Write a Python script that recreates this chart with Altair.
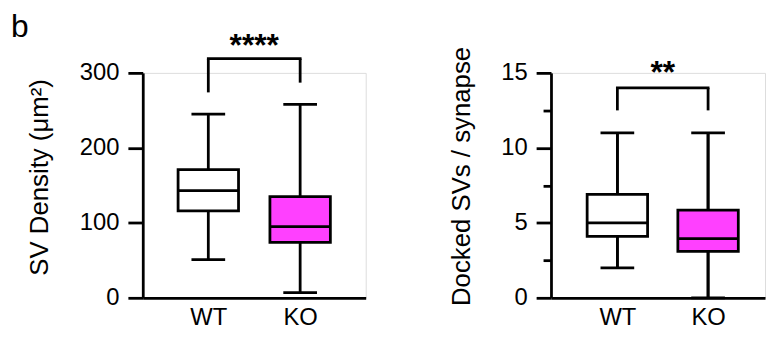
import altair as alt
import pandas as pd

# ---------------- data ----------------
groups = ["WT", "KO"]
positions = [1, 2]
fills = ["#ffffff", "#ff40ff"]

sv_min = [51, 7]
sv_q1 = [116, 74]
sv_med = [143, 95]
sv_q3 = [171, 135]
sv_max = [245, 258]
sv_legs = [274, 287]
sv_top = 319
sv_stars = "****"
sv_stars_y = 322

dk_min = [2, 0]
dk_q1 = [4.1, 3.1]
dk_med = [5.0, 3.95]
dk_q3 = [6.9, 5.85]
dk_max = [11, 11]
dk_legs = [12.5, 12.5]
dk_top = 14
dk_stars = "**"
dk_stars_y = 14.3

sv_ticks = [0, 100, 200, 300]
dk_ticks = [0, 5, 10, 15]
dk_minor = [2.5, 7.5, 12.5]

FONT = "Liberation Sans"
SW = 2.8
FS = 24
TFS = 26

label_expr = " : ".join(
    [f"datum.value == {p} ? '{g}'" for p, g in zip(positions, groups)] + ["''"]
)


def panel(mins, q1, med, q3, maxs, legs, top, stars, stars_y, ydomain, yticks,
          xdomain, width, ytitle, title_x, title_y, minor=None, title=None):
    df = pd.DataFrame({
        "pos": positions, "g": groups, "fill": fills, "min": mins, "q1": q1,
        "med": med, "q3": q3, "max": maxs, "leg": legs, "top": [top] * len(groups),
    })
    xs = alt.Scale(domain=xdomain, nice=False, zero=False)
    ys = alt.Scale(domain=ydomain, nice=False, zero=False)
    xaxis = alt.Axis(values=positions, labelExpr=label_expr, ticks=False, grid=False,
                     domainWidth=SW, domainColor="black", labelFontSize=FS,
                     labelColor="black", labelFont=FONT, labelPadding=8, title=None)
    yaxis = alt.Axis(values=yticks, tickSize=15, tickWidth=SW, tickColor="black",
                     domainWidth=SW, domainColor="black", grid=False,
                     labelFontSize=FS, labelColor="black", labelFont=FONT,
                     labelPadding=9, title=ytitle, titleFontSize=TFS,
                     titleFont=FONT, titleFontWeight="normal", titleColor="black",
                     titleX=title_x, titleY=title_y, titleBaseline="alphabetic",
                     titleAngle=270)
    xn = alt.X("pos:Q", scale=xs, axis=None)
    base = alt.Chart(df)
    whisk = base.mark_rule(color="black", strokeWidth=SW).encode(
        x=alt.X("pos:Q", scale=xs, axis=xaxis),
        y=alt.Y("min:Q", scale=ys, axis=yaxis), y2="max:Q")
    layers = [whisk]
    if minor is not None:
        maxis = alt.Axis(values=minor, tickSize=8, tickWidth=SW, tickColor="black",
                         domain=False, labels=False, grid=False, title=None,
                         orient="left")
        layers.append(base.mark_rule(color="black", strokeWidth=SW).encode(
            x=xn, y=alt.Y("min:Q", scale=ys, axis=maxis), y2="max:Q"))
    box = base.mark_bar(size=61, stroke="black", strokeWidth=SW).encode(
        x=xn, y=alt.Y("q1:Q", scale=ys, axis=None), y2="q3:Q",
        fill=alt.Fill("fill:N", scale=None))
    medm = base.mark_tick(size=61, thickness=SW, color="black", orient="horizontal",
                          opacity=1).encode(x=xn, y=alt.Y("med:Q", scale=ys, axis=None))
    capmin = base.mark_tick(size=34, thickness=SW, color="black", orient="horizontal",
                            opacity=1).encode(x=xn, y=alt.Y("min:Q", scale=ys, axis=None))
    capmax = base.mark_tick(size=34, thickness=SW, color="black", orient="horizontal",
                            opacity=1).encode(x=xn, y=alt.Y("max:Q", scale=ys, axis=None))
    legm = base.mark_rule(color="black", strokeWidth=SW).encode(
        x=xn, y=alt.Y("leg:Q", scale=ys, axis=None), y2="top:Q")
    hdf = pd.DataFrame({"a": [positions[0]], "b": [positions[1]], "top": [top],
                        "mid": [sum(positions) / 2], "t": [stars], "sy": [stars_y]})
    hbar = alt.Chart(hdf).mark_rule(color="black", strokeWidth=SW, strokeCap="square").encode(
        x=alt.X("a:Q", scale=xs, axis=None), x2="b:Q", y=alt.Y("top:Q", scale=ys, axis=None))
    star = alt.Chart(hdf).mark_text(font=FONT, fontSize=32, fontWeight="bold",
                                    baseline="alphabetic", align="center", color="black").encode(
        x=alt.X("mid:Q", scale=xs, axis=None), y=alt.Y("sy:Q", scale=ys, axis=None), text="t:N")
    layers += [box, medm, capmin, capmax, legm, hbar, star]
    ch = alt.layer(*layers).properties(width=width, height=227).resolve_axis(
        x="independent", y="independent")
    if title is not None:
        ch = ch.properties(title=title)
    return ch


left = panel(sv_min, sv_q1, sv_med, sv_q3, sv_max, sv_legs, sv_top, sv_stars,
             sv_stars_y, [0, 300], sv_ticks, [1 - 64 / 97, 2 + 64 / 97], 225,
             "SV Density (μm²)", -96, 105,
             title=alt.TitleParams("b", anchor="start", frame="group", fontSize=32,
                                   fontWeight="normal", font=FONT, color="black",
                                   dx=-133, dy=17))
right = panel(dk_min, dk_q1, dk_med, dk_q3, dk_max, dk_legs, dk_top, dk_stars,
              dk_stars_y, [0, 15], dk_ticks, [1 - 65 / 96, 2 + 55 / 96], 216,
              "Docked SVs / synapse", -82, 104, minor=dk_minor)

chart = alt.hconcat(left, right, spacing=82).properties(
    padding={"left": 2, "top": 0, "right": 0, "bottom": 0}
).configure_view(stroke="transparent").configure(font=FONT)

chart.save("out.html", embed_options={"renderer": "svg", "actions": False})
